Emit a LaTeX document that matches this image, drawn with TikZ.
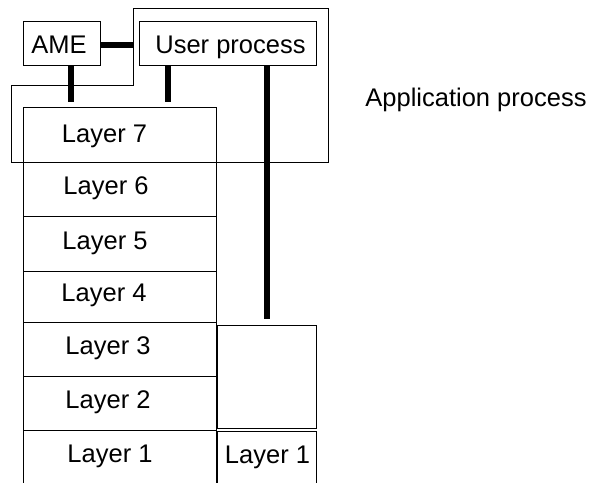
\documentclass[tikz,border=0pt]{standalone}
\usepackage{fontspec}
\setmainfont{Liberation Sans}
\usetikzlibrary{calc}
\begin{document}
\begin{tikzpicture}[x=1pt,y=-1pt,
  box/.style={draw=black,line width=1pt,inner sep=0pt,outer sep=0pt,anchor=center},
  lbl/.style={anchor=base,inner sep=0pt,font=\fontsize{25.5}{30}\selectfont},
  link/.style={line width=5.5pt,black}]
\useasboundingbox (0,0) rectangle (597,482);
% application process boundary
\draw[line width=1pt] (133,8) -- (328,8) -- (328,162) -- (11,162) -- (11,85) -- (133,85) -- cycle;
\coordinate (appw) at (133,8);
% boxes
\node[box,minimum width=77pt,minimum height=44pt] (ame) at (61.5,43) {};
\node[box,minimum width=177pt,minimum height=44pt] (up) at (227.5,43) {};
\node[box,minimum width=193pt,minimum height=55pt] (l7) at (119.5,134.5) {};
\node[box,minimum width=193pt,minimum height=54pt] (l6) at (119.5,189) {};
\node[box,minimum width=193pt,minimum height=55pt] (l5) at (119.5,243.5) {};
\node[box,minimum width=193pt,minimum height=51pt] (l4) at (119.5,296.5) {};
\node[box,minimum width=193pt,minimum height=54pt] (l3) at (119.5,349) {};
\node[box,minimum width=193pt,minimum height=54pt] (l2) at (119.5,403) {};
\node[box,minimum width=193pt,minimum height=60pt] (l1) at (119.5,460) {};
\node[box,minimum width=99pt,minimum height=103pt] (rbox) at (266.5,376.5) {};
\node[box,minimum width=99pt,minimum height=59pt] (rl1) at (266.5,460.5) {};
% labels
\node[lbl] at (59,53) {AME};
\node[lbl] at (230.5,53) {User process};
\node[lbl] at (476,106.5) {Application process};
\node[lbl] at (104.5,142) {Layer 7};
\node[lbl] at (106,194) {Layer 6};
\node[lbl] at (105,249) {Layer 5};
\node[lbl] at (104,301) {Layer 4};
\node[lbl] at (108,354) {Layer 3};
\node[lbl] at (108,408) {Layer 2};
\node[lbl] at (110,462) {Layer 1};
\node[lbl] at (267.5,463) {Layer 1};
% connectors
\coordinate (ca) at (71,0);
\coordinate (cu) at (168,0);
\coordinate (cr) at (267,0);
\draw[link] ([yshift=-2pt]ame.east) -- ([yshift=-2pt]ame.east -| appw);
\draw[link,shorten >=5pt] (ame.south -| ca) -- (l7.north -| ca);
\draw[link,shorten >=5pt] (up.south -| cu) -- (l7.north -| cu);
\draw[link,shorten >=6pt] (up.south -| cr) -- (rbox.north -| cr);
\end{tikzpicture}
\end{document}
